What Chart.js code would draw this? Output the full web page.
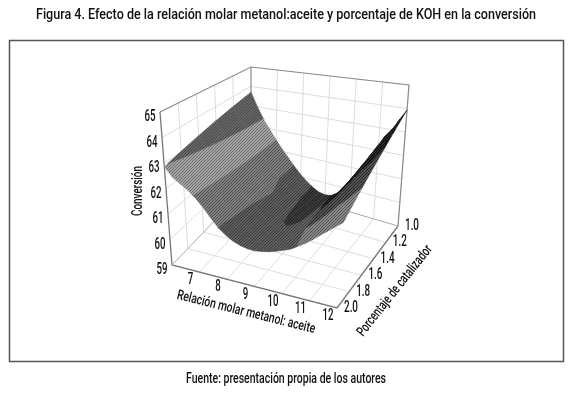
<!DOCTYPE html>
<html>
<head>
<meta charset="utf-8">
<style>
  html, body { margin: 0; background: #fff; }
  canvas { display: block; }
</style>
<script src="https://cdn.jsdelivr.net/npm/chart.js@4"></script>
</head>
<body>
<canvas id="surfaceChart" width="580" height="394"></canvas>
<script>
// axis values
const molarRatio = [6, 6.25, 6.5, 6.75, 7, 7.25, 7.5, 7.75, 8, 8.25, 8.5, 8.75, 9, 9.25, 9.5, 9.75, 10, 10.25, 10.5, 10.75, 11, 11.25, 11.5, 11.75, 12];
const catalyst = [1.0, 1.2, 1.4, 1.6, 1.8, 2.0];
const xTicks = [7, 8, 9, 10, 11, 12];
const yTicks = ["1.0", "1.2", "1.4", "1.6", "1.8", "2.0"];
const zTicks = [59, 60, 61, 62, 63, 64, 65];

// conversion, one list per catalyst level
const conv10 = [63.7, 63.0, 62.4, 61.95, 61.5, 61.1, 60.75, 60.4, 60.1, 59.85, 59.65, 59.5, 59.45, 59.5, 59.7, 60.05, 60.45, 60.9, 61.35, 61.8, 62.25, 62.7, 63.05, 63.5, 63.94];
const conv12 = [63.53, 62.9, 62.38, 61.98, 61.57, 61.19, 60.85, 60.55, 60.3, 60.05, 59.8, 59.67, 59.63, 59.68, 59.85, 60.14, 60.48, 60.86, 61.26, 61.65, 62.05, 62.45, 62.78, 63.18, 63.57];
const conv14 = [63.36, 62.8, 62.36, 62.01, 61.64, 61.28, 60.98, 60.9, 60.72, 60.3, 59.94, 59.84, 59.81, 59.85, 60.0, 60.24, 60.52, 60.83, 61.16, 61.5, 61.85, 62.21, 62.5, 62.86, 63.2];
const conv16 = [63.19, 62.7, 62.34, 62.04, 61.71, 61.37, 61.05, 60.85, 60.6, 60.35, 60.09, 60.01, 59.99, 60.03, 60.14, 60.33, 60.55, 60.79, 61.07, 61.35, 61.65, 61.96, 62.23, 62.54, 62.84];
const conv18 = [63.02, 62.6, 62.32, 62.07, 61.78, 61.46, 61.13, 60.88, 60.62, 60.45, 60.27, 60.18, 60.17, 60.2, 60.29, 60.43, 60.59, 60.76, 60.97, 61.2, 61.45, 61.72, 61.95, 62.22, 62.47];
const conv20 = [62.85, 62.5, 62.3, 62.1, 61.85, 61.55, 61.2, 60.9, 60.68, 60.52, 60.42, 60.36, 60.35, 60.38, 60.44, 60.52, 60.62, 60.72, 60.88, 61.05, 61.25, 61.47, 61.68, 61.9, 62.1];
const conversion = [conv10, conv12, conv14, conv16, conv18, conv20];

// pixel position of the box corners
const box = {
  far: { floor: [251, 183], top: [251, 67] },
  right: { floor: [398, 226], top: [409, 85] },
  left: { floor: [172, 265], top: [160, 112] },
  near: { floor: [337, 308], top: [349, 143] },
};

function lerp(a, b, t) {
  return a + (b - a) * t;
}

// data value -> position on the hidden x/y scales
function project(x, y, z) {
  const u = (x - 6) / 6;
  const t = y - 1;
  const v = (z - 59) / 6;
  const c = (k, i) => lerp(
    lerp(box.far[k][i], box.right[k][i], u),
    lerp(box.left[k][i], box.near[k][i], u),
    t
  );
  return { x: lerp(c("floor", 0), c("top", 0), v), y: lerp(c("floor", 1), c("top", 1), v) };
}

function hatch(light, dark) {
  const c = document.createElement("canvas");
  c.width = 3;
  c.height = 3;
  const g = c.getContext("2d");
  g.fillStyle = light;
  g.fillRect(0, 0, 3, 3);
  g.fillStyle = dark;
  for (let i = 0; i < 3; i++) g.fillRect(i, 2 - i, 1, 1);
  return g.createPattern(c, "repeat");
}

// the far side of the valley is shaded by a line across the floor, the rest by height
const rightSide = (p) => p.x - lerp(9.2, 10.45, p.y - 1);
const level = (p) => p.z - 0.45 * (p.y - 1);
const zone = (zLow, zHigh, side, yLow, yHigh) => (p) => [
  level(p) - zLow, zHigh - level(p), side * rightSide(p), p.y - yLow, yHigh - p.y,
];
const shades = [
  { tests: zone(62.45, 99, -1, 0, 9), fill: hatch("#666666", "#484848") },
  { tests: zone(61.5, 62.45, -1, 0, 9), fill: hatch("#a4a4a4", "#6a6a6a") },
  { tests: zone(60.48, 61.5, -1, 0, 9), fill: hatch("#808080", "#4c4c4c") },
  { tests: zone(59.7, 60.48, -1, 0, 9), fill: hatch("#5e5e5e", "#383838") },
  { tests: zone(0, 59.7, -1, 0, 9), fill: hatch("#3c3c3c", "#1c1c1c") },
  { tests: zone(0, 99, 1, 0, 1.35), fill: hatch("#222222", "#050505") },
  { tests: zone(0, 99, 1, 1.35, 1.7), fill: hatch("#505050", "#222222") },
  { tests: zone(0, 99, 1, 1.7, 9), fill: hatch("#888888", "#505050") },
];

// cut a cell outline down to where one test stays positive
function clipCell(cell, testIndex, tests) {
  const out = [];
  cell.forEach((p, i) => {
    const q = cell[(i + 1) % cell.length];
    const a = tests(p)[testIndex];
    const b = tests(q)[testIndex];
    if (a >= 0) out.push(p);
    if ((a >= 0) !== (b >= 0)) {
      const t = a / (a - b);
      out.push({ x: lerp(p.x, q.x, t), y: lerp(p.y, q.y, t), z: lerp(p.z, q.z, t) });
    }
  });
  return out;
}

function lineSet(points, color, width, order) {
  return {
    data: points,
    showLine: true,
    pointRadius: 0,
    borderColor: color,
    borderWidth: width,
    fill: false,
    order: order,
  };
}

const datasets = [];
const gridColor = "#dddddd";
const edgeColor = "#8a8a8a";

// grid on floor and on the two walls
xTicks.forEach((x) => {
  datasets.push(lineSet([project(x, 1, 59), project(x, 2, 59)], gridColor, 1, 1000));
  datasets.push(lineSet([project(x, 1, 59), project(x, 1, 65)], gridColor, 1, 1000));
});
catalyst.slice(1, 5).forEach((y) => {
  datasets.push(lineSet([project(6, y, 59), project(12, y, 59)], gridColor, 1, 1000));
  datasets.push(lineSet([project(6, y, 59), project(6, y, 65)], gridColor, 1, 1000));
});
zTicks.slice(1, 6).forEach((z) => {
  datasets.push(lineSet([project(6, 2, z), project(6, 1, z), project(12, 1, z)], gridColor, 1, 1000));
});

// box edges
datasets.push(lineSet([project(6, 2, 65), project(6, 1, 65), project(12, 1, 65), project(12, 1, 59)], edgeColor, 1.2, 900));
datasets.push(lineSet([project(6, 1, 59), project(6, 1, 65)], edgeColor, 1.2, 900));
datasets.push(lineSet([project(6, 1, 59), project(12, 1, 59)], "#aaaaaa", 1, 900));
datasets.push(lineSet([project(6, 1, 59), project(6, 2, 59)], "#aaaaaa", 1, 900));
datasets.push(lineSet([project(6, 2, 65), project(6, 2, 59), project(12, 2, 59), project(12, 1, 59)], "#777777", 1.3, 900));

// surface cells, far corner first
for (let r = 0; r < catalyst.length - 1; r++) {
  for (let i = 0; i < molarRatio.length - 1; i++) {
    const cell = [
      { x: molarRatio[i], y: catalyst[r], z: conversion[r][i] },
      { x: molarRatio[i + 1], y: catalyst[r], z: conversion[r][i + 1] },
      { x: molarRatio[i + 1], y: catalyst[r + 1], z: conversion[r + 1][i + 1] },
      { x: molarRatio[i], y: catalyst[r + 1], z: conversion[r + 1][i] },
    ];
    shades.forEach((shade) => {
      let part = cell;
      for (let k = 0; k < 5 && part.length > 0; k++) part = clipCell(part, k, shade.tests);
      if (part.length < 3) return;
      const pts = part.map((p) => project(p.x, p.y, p.z));
      pts.push(pts[0]);
      datasets.push({
        data: pts,
        showLine: true,
        pointRadius: 0,
        borderColor: shade.fill,
        borderWidth: 0.6,
        backgroundColor: shade.fill,
        fill: "shape",
        order: 100 - i - r,
      });
    });
  }
}

// page text
function label(ctx, text, x, y, size, angle, maxWidth) {
  ctx.save();
  ctx.translate(x, y);
  ctx.rotate((angle * Math.PI) / 180);
  ctx.font = "500 " + size + "px Roboto, sans-serif";
  ctx.fillStyle = "#111111";
  ctx.textAlign = "center";
  ctx.textBaseline = "middle";
  ctx.fillText(text, 0, 0, maxWidth);
  ctx.restore();
}

const pageText = {
  id: "pageText",
  beforeDraw(chart) {
    const ctx = chart.ctx;
    ctx.save();
    ctx.strokeStyle = "#555555";
    ctx.lineWidth = 1.5;
    ctx.strokeRect(9.5, 40.5, 554, 321);
    ctx.restore();
  },
  afterDraw(chart) {
    const ctx = chart.ctx;
    label(ctx, "Figura 4. Efecto de la relación molar metanol:aceite y porcentaje de KOH en la conversión", 286, 15, 15, 0, 500);
    label(ctx, "Fuente: presentación propia de los autores", 286, 379, 14, 0, 200);
    zTicks.forEach((z) => {
      const p = project(6, 2, z);
      label(ctx, String(z), p.x - 10, p.y + 5, 16, 0, 11);
    });
    xTicks.forEach((x) => {
      const p = project(x, 2, 59);
      label(ctx, String(x), p.x - 9, p.y + 8, 16, 0, String(x).length * 5.5);
    });
    yTicks.forEach((y) => {
      const p = project(12, Number(y), 59);
      label(ctx, y, p.x + 14, p.y, 16, 0, 14);
    });
    label(ctx, "Conversión", 138, 191, 15, -90, 50);
    label(ctx, "Relación molar metanol: aceite", 246, 312.5, 14, 14, 142);
    label(ctx, "Porcentaje de catalizador", 395, 291, 14, -51.5, 112);
  },
};

const ctx = document.getElementById("surfaceChart").getContext("2d");
const surfaceChart = new Chart(ctx, {
  type: "scatter",
  data: { datasets: datasets },
  options: {
    responsive: false,
    animation: false,
    layout: { padding: 0 },
    plugins: { legend: { display: false }, tooltip: { enabled: false } },
    scales: {
      x: { type: "linear", min: 0, max: 580, display: false },
      y: { type: "linear", min: 0, max: 394, reverse: true, display: false },
    },
  },
  plugins: [pageText],
});
</script>
</body>
</html>
